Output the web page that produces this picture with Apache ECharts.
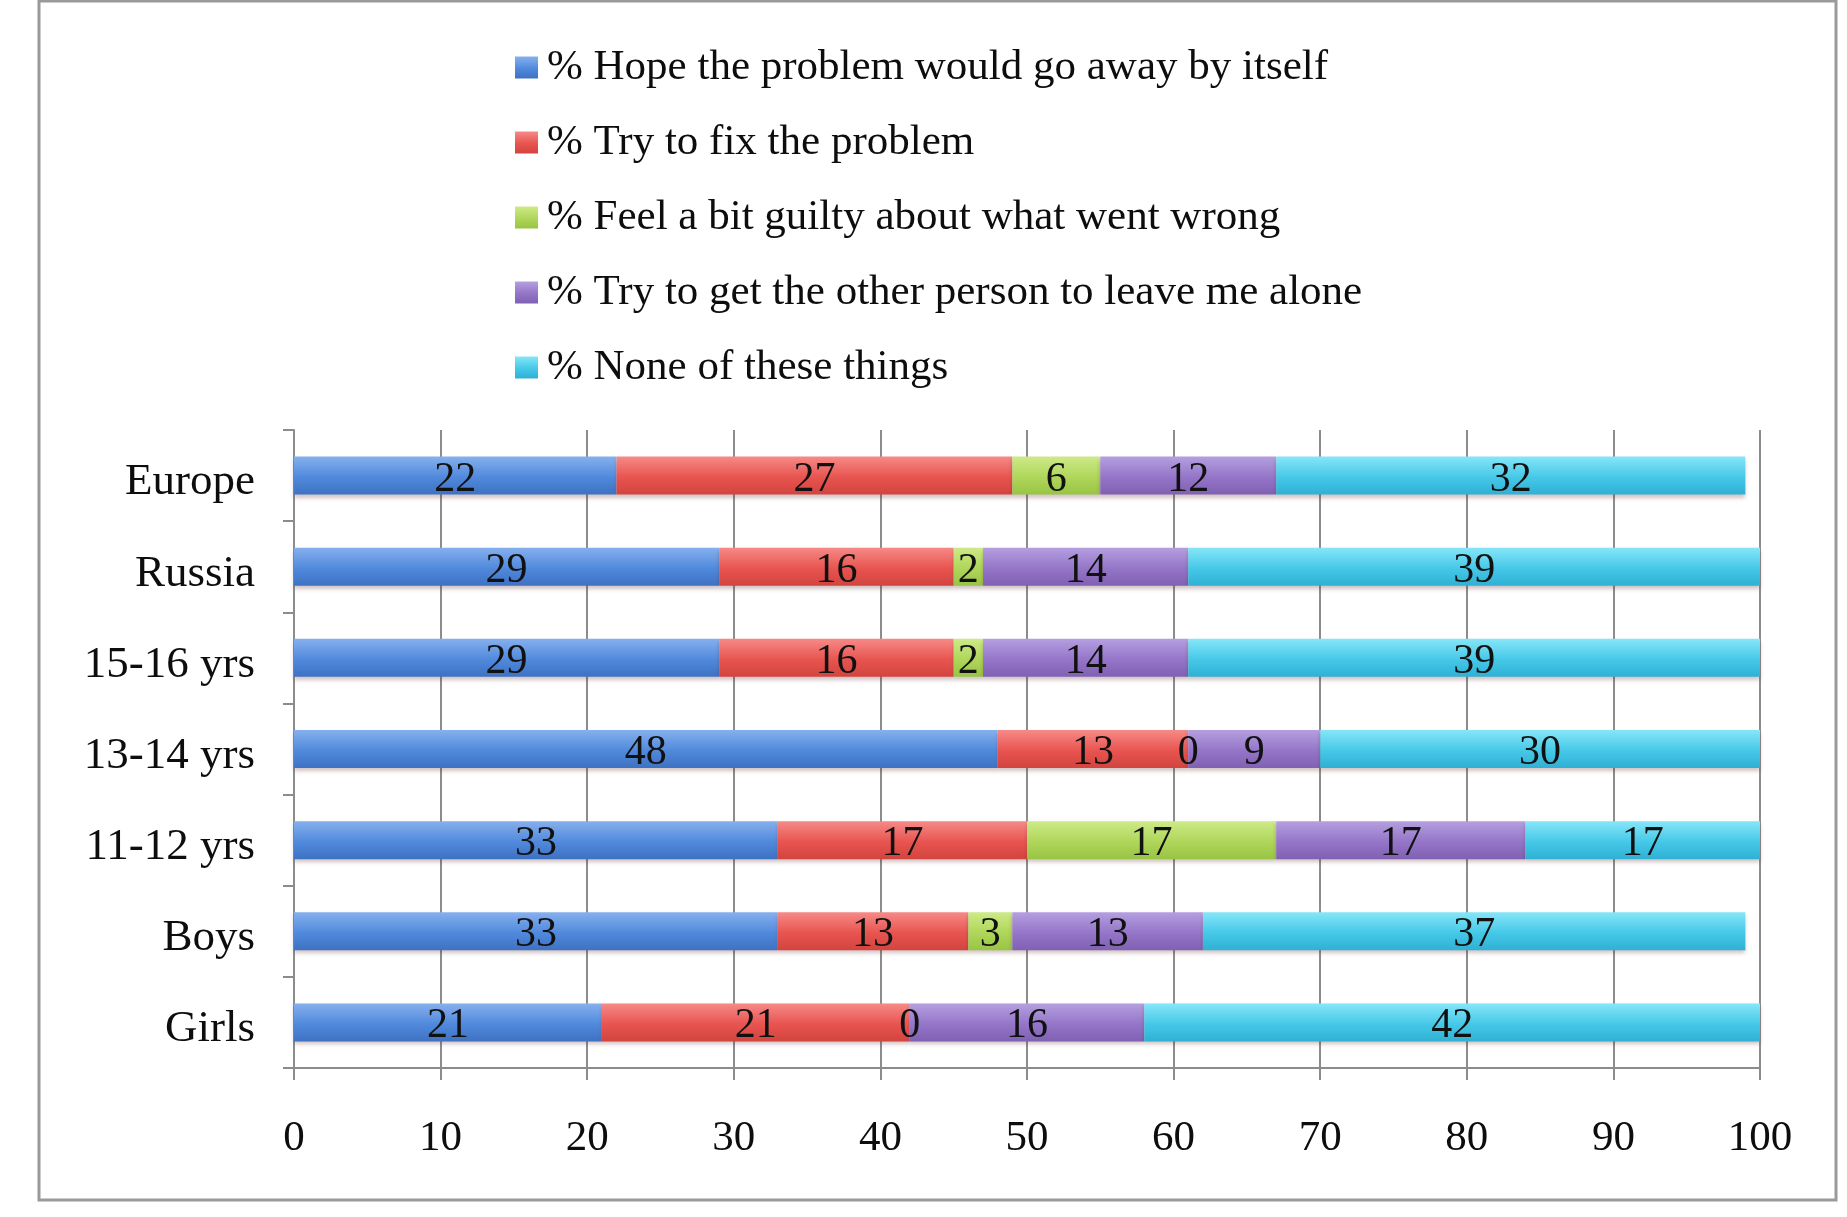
<!DOCTYPE html>
<html>
<head>
  <meta charset="utf-8" />
  <title>Coping responses</title>
  <script src="https://cdn.jsdelivr.net/npm/echarts@6/dist/echarts.min.js"></script>
  <style>
    body { margin: 0; background: #fff; }
  </style>
</head>
<body>
  <div id="chart" style="width:1847px;height:1217px;"></div>
  <script type="text/javascript">
    // categories, top to bottom
    var groups = ['Europe', 'Russia', '15-16 yrs', '13-14 yrs', '11-12 yrs', 'Boys', 'Girls'];

    var seriesNames = [
      '% Hope the problem would go away by itself',
      '% Try to fix the problem',
      '% Feel a bit guilty about what went wrong',
      '% Try to get the other person to leave me alone',
      '% None of these things'
    ];

    var hopeAway = [22, 29, 29, 48, 33, 33, 21];
    var tryFix = [27, 16, 16, 13, 17, 13, 21];
    var feelGuilty = [6, 2, 2, 0, 17, 3, 0];
    var leaveAlone = [12, 14, 14, 9, 17, 13, 16];
    var noneOf = [32, 39, 39, 30, 17, 37, 42];

    var xTicks = [0, 10, 20, 30, 40, 50, 60, 70, 80, 90, 100];

    // top / middle / bottom shades of each bar
    var shades = [
      ['#86b0ee', '#5089dc', '#3e71c2'],
      ['#f68a88', '#e8544f', '#d2443f'],
      ['#cdea88', '#afd65a', '#98c444'],
      ['#b59fe0', '#9475c8', '#7f60b2'],
      ['#86e6f8', '#45c8e8', '#2fb0d4']
    ];

    var serif = '"Liberation Serif", "DejaVu Serif", serif';
    var gray = '#8c8c8c';
    var ink = '#0d0d0d';

    function grad(c) {
      return new echarts.graphic.LinearGradient(0, 0, 0, 1, [
        { offset: 0, color: c[0] },
        { offset: 0.55, color: c[1] },
        { offset: 1, color: c[2] }
      ]);
    }

    var chart = echarts.init(document.getElementById('chart'));

    var values = [hopeAway, tryFix, feelGuilty, leaveAlone, noneOf];
    var series = values.map(function (d, i) {
      return {
        name: seriesNames[i],
        type: 'bar',
        stack: 'total',
        barWidth: 38,
        data: d,
        itemStyle: {
          color: grad(shades[i]),
          shadowColor: 'rgba(90, 40, 40, 0.28)',
          shadowBlur: 4,
          shadowOffsetY: 3
        },
        label: {
          show: true,
          position: 'inside',
          offset: [0, 4],
          color: '#111',
          fontFamily: serif,
          fontSize: 42,
          formatter: function (p) { return p.value; }
        }
      };
    });

    var option = {
      animation: false,
      backgroundColor: '#fff',
      color: shades.map(function (c) { return c[1]; }),
      graphic: [{
        type: 'rect',
        shape: { x: 39, y: 1, width: 1797, height: 1199 },
        style: { fill: 'none', stroke: '#9a9a9a', lineWidth: 3 },
        silent: true
      }],
      legend: {
        orient: 'vertical',
        left: 510,
        top: 41,
        itemWidth: 23,
        itemHeight: 22,
        itemGap: 32,
        icon: 'rect',
        data: seriesNames,
        textStyle: {
          fontFamily: serif,
          fontSize: 43,
          lineHeight: 42,
          color: ink,
          padding: [0, 0, 0, 4]
        }
      },
      grid: {
        left: 294,
        right: 87,
        top: 430,
        bottom: 149,
        containLabel: false
      },
      xAxis: {
        type: 'value',
        min: 0,
        max: 100,
        interval: 10,
        axisLine: { show: true, lineStyle: { color: gray, width: 2 } },
        axisTick: { show: true, length: 12, lineStyle: { color: gray, width: 2 } },
        splitLine: { show: true, lineStyle: { color: gray, width: 2 } },
        axisLabel: {
          margin: 49,
          color: ink,
          fontFamily: serif,
          fontSize: 43,
          formatter: function (v) { return xTicks.indexOf(v) >= 0 ? String(v) : ''; }
        }
      },
      yAxis: {
        type: 'category',
        inverse: true,
        data: groups,
        axisLine: { show: true, lineStyle: { color: gray, width: 2 } },
        axisTick: { show: true, length: 11, lineStyle: { color: gray, width: 2 } },
        splitLine: { show: false },
        axisLabel: {
          margin: 39,
          color: ink,
          fontFamily: serif,
          fontSize: 45,
          formatter: function (v) { return '{g|' + v + '}'; },
          rich: {
            g: {
              color: ink,
              fontFamily: serif,
              fontSize: 45,
              padding: [14, 0, 0, 0]
            }
          }
        }
      },
      series: series
    };

    chart.setOption(option);
  </script>
</body>
</html>
